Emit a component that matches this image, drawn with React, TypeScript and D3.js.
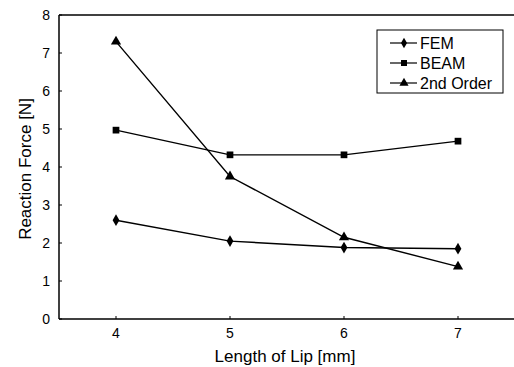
import React from "react";
import * as d3 from "d3";

const xValues = [4, 5, 6, 7];
const femValues = [2.6, 2.05, 1.88, 1.85];
const beamValues = [4.97, 4.32, 4.32, 4.68];
const secondValues = [7.3, 3.75, 2.15, 1.38];
const yTicks = [0, 1, 2, 3, 4, 5, 6, 7, 8];
const xTicks = [4, 5, 6, 7];
const seriesNames = ["FEM", "BEAM", "2nd Order"];

const W = 514, H = 367;
const L = 59, R = 515, T = 15, B = 319;

export default function App() {
  const x = d3.scaleLinear().domain([3.5, 7.5]).range([L, R]);
  const y = d3.scaleLinear().domain([0, 8]).range([B, T]);
  const line = d3.line<number>().x((_, i) => x(xValues[i])).y((d) => y(d));
  const series = [
    { name: seriesNames[0], vals: femValues, sym: d3.symbolDiamond, size: 40 },
    { name: seriesNames[1], vals: beamValues, sym: d3.symbolSquare, size: 45 },
    { name: seriesNames[2], vals: secondValues, sym: d3.symbolTriangle, size: 45 },
  ];
  const font = "'Liberation Sans', Arial, sans-serif";
  return (
    <svg width={W} height={H} style={{ position: "absolute", left: 0, top: 0 }} fontFamily={font}>
      <rect x={0} y={0} width={W} height={H} fill="#fff" />
      <line x1={L} y1={T} x2={R} y2={T} stroke="#000" strokeWidth={1.5} />
      <line x1={L} y1={T} x2={L} y2={B} stroke="#000" strokeWidth={1.5} />
      <line x1={L} y1={B} x2={R} y2={B} stroke="#000" strokeWidth={1.5} />
      {yTicks.map((t) => (
        <g key={t}>
          <line x1={L} x2={L + 3} y1={y(t)} y2={y(t)} stroke="#000" />
          <text x={L - 9} y={y(t)} dy="0.35em" textAnchor="end" fontSize={14}>{t}</text>
        </g>
      ))}
      {xTicks.map((t) => (
        <g key={t}>
          <line x1={x(t)} x2={x(t)} y1={B} y2={B - 3} stroke="#000" />
          <text x={x(t)} y={B + 19} textAnchor="middle" fontSize={14}>{t}</text>
        </g>
      ))}
      <text x={285} y={362} textAnchor="middle" fontSize={17}>Length of Lip [mm]</text>
      <text transform={`translate(31,${(T + B) / 2 + 2}) rotate(-90)`} textAnchor="middle" fontSize={17}>Reaction Force [N]</text>
      {series.map((s) => (
        <g key={s.name}>
          <path d={line(s.vals) || ""} fill="none" stroke="#000" strokeWidth={1.4} />
          {s.vals.map((v, i) => (
            <path key={i} d={d3.symbol(s.sym, s.size)() || ""} transform={`translate(${x(xValues[i])},${y(v)})`} fill="#000" />
          ))}
        </g>
      ))}
      <rect x={377} y={30} width={126} height={63} fill="#fff" stroke="#000" strokeWidth={1} />
      {series.map((s, i) => (
        <g key={s.name} transform={`translate(0,${43 + i * 20})`}>
          <line x1={390} x2={417} y1={0} y2={0} stroke="#000" strokeWidth={1.2} />
          <path d={d3.symbol(s.sym, s.size * 0.8)() || ""} transform="translate(404,0)" fill="#000" />
          <text x={420} y={0} dy="0.35em" fontSize={16}>{s.name}</text>
        </g>
      ))}
    </svg>
  );
}
